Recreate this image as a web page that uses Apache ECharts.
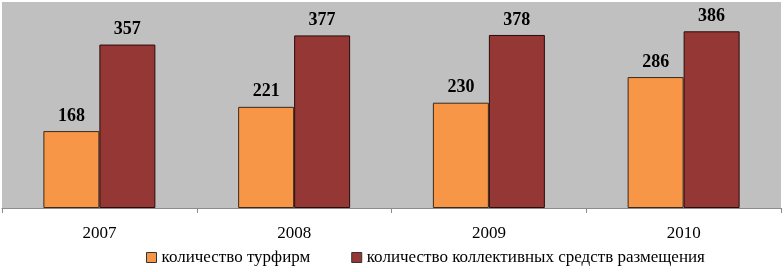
<!DOCTYPE html>
<html><head><meta charset="utf-8">
<script src="https://cdn.jsdelivr.net/npm/echarts@6/dist/echarts.min.js"></script>
<style>html,body{margin:0;padding:0;background:#fff}#c{width:784px;height:272px}</style>
</head><body><div id="c"></div>
<script>
var categories = ['2007', '2008', '2009', '2010'];
var tourFirms = [168, 221, 230, 286];
var accommodation = [357, 377, 378, 386];
var seriesNames = ['количество турфирм', 'количество коллективных средств размещения'];

var chart = echarts.init(document.getElementById('c'), null, {renderer: 'canvas'});
var font = '"Liberation Serif", "Times New Roman", serif';
chart.setOption({
  animation: false,
  textStyle: {fontFamily: font},
  grid: {left: 2, right: 3, top: 2, bottom: 64, show: true, backgroundColor: '#c0c0c0', borderWidth: 0},
  legend: {
    left: 141, top: 244, itemWidth: 10, itemHeight: 10, itemGap: 41,
    textStyle: {fontFamily: font, fontSize: 17, color: '#000'},
    data: seriesNames.map(function(n){return {name: n, icon: 'rect', itemStyle: {borderColor: '#333', borderWidth: 1}};})
  },
  xAxis: {
    type: 'category', data: categories,
    axisLine: {lineStyle: {color: '#8c8c8c', width: 1}},
    axisTick: {show: true, length: 5, lineStyle: {color: '#8c8c8c'}},
    axisLabel: {fontFamily: font, fontSize: 17, color: '#000', margin: 17}
  },
  yAxis: {type: 'value', min: 0, max: 450, show: false, splitLine: {show: false}},
  series: [
    {name: seriesNames[0], type: 'bar', data: tourFirms, barGap: '0%', barCategoryGap: '42.5%',
     itemStyle: {color: '#f79646', borderColor: '#3a2a1a', borderWidth: 1},
     label: {show: true, position: 'top', distance: 6, fontFamily: font, fontSize: 18, fontWeight: 'bold', color: '#000'}},
    {name: seriesNames[1], type: 'bar', data: accommodation, barGap: '0%', barCategoryGap: '42.5%',
     itemStyle: {color: '#953735', borderColor: '#2a0a0a', borderWidth: 1},
     label: {show: true, position: 'top', distance: 6, fontFamily: font, fontSize: 18, fontWeight: 'bold', color: '#000'}}
  ]
});
</script></body></html>
